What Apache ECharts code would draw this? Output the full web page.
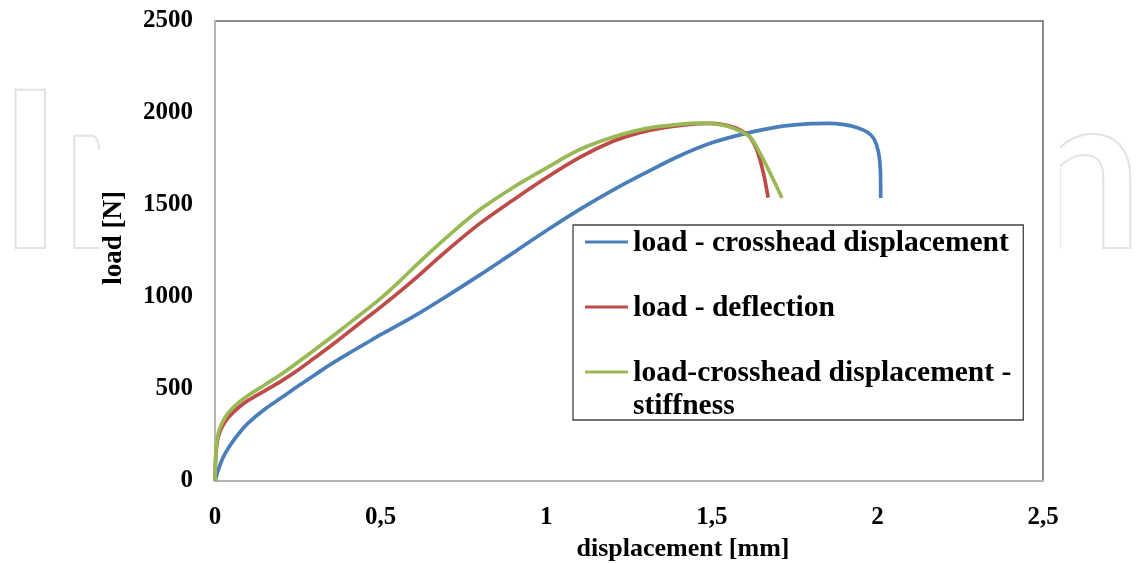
<!DOCTYPE html>
<html><head><meta charset="utf-8">
<script src="https://cdn.jsdelivr.net/npm/echarts@6/dist/echarts.min.js"></script>
<style>html,body{margin:0;padding:0;background:#fff}#c{width:1145px;height:563px}</style>
</head><body><div id="c"></div>
<script>
// ---- data ----
const seriesNames = ['load - crosshead displacement', 'load - deflection', 'load-crosshead displacement -\nstiffness'];
const xTickLabels = ['0', '0,5', '1', '1,5', '2', '2,5'];
const yTickLabels = ['0', '500', '1000', '1500', '2000', '2500'];

const crossheadX = [0,0.01,0.025,0.05,0.075,0.1,0.15,0.2,0.25,0.3,0.35,0.4,0.45,0.5,0.6,0.7,0.8,0.9,1.0,1.1,1.2,1.3,1.4,1.5,1.6,1.7,1.8,1.85,1.9,1.94,1.97,1.99,2.003,2.009,2.01];
const crossheadY = [0,60,130,205,265,315,390,452,515,575,635,690,742,795,895,1005,1120,1240,1360,1475,1580,1675,1765,1838,1888,1925,1942,1944,1937,1920,1895,1858,1790,1690,1538];

const deflectionX = [0,0.002,0.005,0.01,0.02,0.04,0.07,0.1,0.15,0.2,0.25,0.3,0.354,0.4,0.457,0.5,0.557,0.6,0.7,0.8,0.9,1.0,1.1,1.2,1.28,1.36,1.46,1.5,1.564,1.6,1.615,1.636,1.655,1.67];
const deflectionY = [0,120,190,240,290,345,398,438,490,543,602,668,740,805,885,945,1028,1093,1252,1400,1527,1648,1758,1845,1892,1922,1942,1944,1924,1893,1870,1800,1680,1540];

const stiffnessX = [0,0.002,0.005,0.01,0.02,0.04,0.07,0.1,0.15,0.2,0.25,0.3,0.354,0.4,0.457,0.5,0.557,0.6,0.7,0.8,0.9,1.0,1.1,1.2,1.3,1.4,1.464,1.52,1.564,1.615,1.645,1.676,1.712];
const stiffnessY = [0,130,210,260,310,370,425,465,522,580,645,712,785,850,930,992,1085,1160,1325,1475,1595,1700,1800,1868,1915,1938,1945,1938,1918,1870,1783,1674,1538];

const colors = ['#4A7EBB', '#BE4B48', '#98B954'];
// ---------------------------------------------------

function pairs(xs, ys) { return xs.map((x, i) => [x, ys[i]]); }
const seriesData = [pairs(crossheadX, crossheadY), pairs(deflectionX, deflectionY), pairs(stiffnessX, stiffnessY)];

const serif = '"Liberation Serif", "Times New Roman", serif';
const legendText = {fontFamily: serif, fontWeight: 'bold', fontSize: 29.5, color: '#000', lineHeight: 33};
const chart = echarts.init(document.getElementById('c'), null, {renderer: 'canvas'});
chart.setOption({
  animation: false,
  backgroundColor: '#fff',
  graphic: {
    elements: [{
      type: 'text', z: -10, silent: true,
      x: -2, y: 178,
      style: {
        text: 'IntechOpen', font: 'bold 218px Lato',
        fill: 'rgba(0,0,0,0)', stroke: '#e3e3e3', lineWidth: 2,
        verticalAlign: 'middle', align: 'left'
      }
    }, {
      type: 'rect', z: -5, silent: true,
      shape: {x: 100, y: 0, width: 960, height: 563},
      style: {fill: '#fff'}
    }]
  },
  grid: {
    left: 215, right: 102, top: 21, bottom: 82,
    show: true, backgroundColor: '#fff', borderColor: '#666', borderWidth: 1.5,
    outerBoundsMode: 'none', containLabel: false
  },
  legend: {
    left: 573, top: 225, orient: 'vertical',
    itemGap: -34, itemWidth: 43, itemHeight: 3, icon: 'rect',
    padding: [-32.5, 12, -1.5, 12],
    backgroundColor: '#fff', borderColor: '#444', borderWidth: 1.3,
    selectedMode: false,
    textStyle: Object.assign({}, legendText, {
      rich: {
        sp: {fontSize: 1, lineHeight: 66},
        a: Object.assign({}, legendText, {verticalAlign: 'bottom'})
      }
    }),
    formatter: function (name) {
      const parts = name.split('\n');
      return '{sp| }{a|' + parts[0] + '}\n{a|' + (parts[1] || ' ') + '}';
    },
    data: seriesNames
  },
  xAxis: {
    type: 'value', min: 0, max: 2.5, interval: 0.5,
    name: 'displacement [mm]', nameLocation: 'middle', nameGap: 55,
    nameTextStyle: {fontFamily: serif, fontWeight: 'bold', fontSize: 26, color: '#000', padding: [0, 0, 0, 108]},
    axisLine: {show: true, lineStyle: {color: '#b5b5b5', width: 2}},
    axisTick: {show: false},
    splitLine: {show: false},
    axisLabel: {
      margin: 24, fontFamily: serif, fontWeight: 'bold', fontSize: 25, color: '#000',
      formatter: v => xTickLabels[Math.round(v / 0.5)]
    }
  },
  yAxis: {
    type: 'value', min: 0, max: 2500, interval: 500,
    name: 'load [N]', nameLocation: 'middle', nameGap: 87, nameRotate: 90,
    nameTextStyle: {fontFamily: serif, fontWeight: 'bold', fontSize: 27, color: '#000', padding: [0, 0, 0, 26]},
    axisLine: {show: true, lineStyle: {color: '#b5b5b5', width: 2}},
    axisTick: {show: false},
    splitLine: {show: false},
    axisLabel: {
      margin: 22, fontFamily: serif, fontWeight: 'bold', fontSize: 25, color: '#000',
      formatter: v => yTickLabels[Math.round(v / 500)]
    }
  },
  series: seriesData.map((d, i) => ({
    name: seriesNames[i], type: 'line', data: d,
    showSymbol: false, symbol: 'none', smooth: 0.35,
    color: colors[i],
    itemStyle: {color: colors[i]},
    lineStyle: {color: colors[i], width: 3.7},
    z: 3 + i
  }))
});
</script>
</body></html>
